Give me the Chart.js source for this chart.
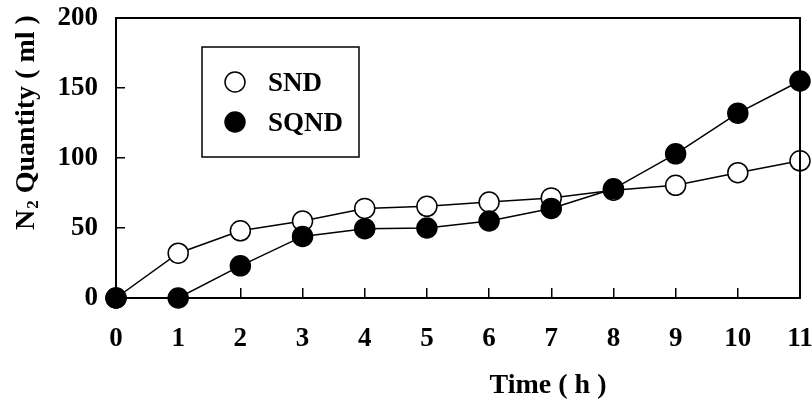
<!DOCTYPE html>
<html>
<head>
<meta charset="utf-8">
<script src="https://cdn.jsdelivr.net/npm/chart.js@4/dist/chart.umd.min.js"></script>
<style>
  html, body { margin: 0; padding: 0; background: #fff; }
  #wrap { width: 812px; height: 401px; }
</style>
</head>
<body>
<div id="wrap"><canvas id="myChart" width="812" height="401"></canvas></div>
<script>
const hours = [0, 1, 2, 3, 4, 5, 6, 7, 8, 9, 10, 11];
const snd = [0, 32, 48, 55, 64, 65.5, 68.5, 71.5, 77, 80.5, 89.5, 98];
const sqnd = [0, 0, 23, 44, 49.5, 50, 55, 64, 78, 103, 132, 155];
const yTicks = [0, 50, 100, 150, 200];

const FONT = "'Liberation Serif', 'Times New Roman', serif";

const toPoints = (vals) => hours.map((h, i) => ({ x: h, y: vals[i] }));

// frame, axis titles and boxed legend
const extras = {
  id: "extras",
  afterDraw(chart) {
    const ctx = chart.ctx;
    const a = chart.chartArea;
    ctx.save();
    ctx.strokeStyle = "#000";
    ctx.lineWidth = 2;
    ctx.strokeRect(a.left, a.top, a.right - a.left, a.bottom - a.top);

    ctx.fillStyle = "#000";
    // x title
    ctx.font = "bold 28px " + FONT;
    ctx.textAlign = "center";
    ctx.textBaseline = "alphabetic";
    ctx.fillText("Time ( h )", 548, 393);

    // y title, with subscript 2
    ctx.translate(34, 230);
    ctx.rotate(-Math.PI / 2);
    ctx.textAlign = "left";
    ctx.font = "bold 28px " + FONT;
    ctx.fillText("N", 0, 0);
    let w = ctx.measureText("N").width;
    ctx.font = "bold 17px " + FONT;
    ctx.fillText("2", w + 1, 4);
    w += ctx.measureText("2").width + 1;
    ctx.font = "bold 28px " + FONT;
    ctx.fillText(" Quantity ( ml )", w, 0);
    ctx.restore();

    // legend
    ctx.save();
    ctx.strokeStyle = "#000";
    ctx.lineWidth = 1.5;
    ctx.strokeRect(202, 47, 157, 110);
    const items = [
      { label: "SND", fill: "#fff", y: 82 },
      { label: "SQND", fill: "#000", y: 122 },
    ];
    ctx.font = "bold 27px " + FONT;
    ctx.textAlign = "left";
    ctx.textBaseline = "alphabetic";
    items.forEach((it) => {
      ctx.beginPath();
      ctx.arc(235, it.y, 10, 0, Math.PI * 2);
      ctx.fillStyle = it.fill;
      ctx.fill();
      ctx.lineWidth = 1.5;
      ctx.stroke();
      ctx.fillStyle = "#000";
      ctx.fillText(it.label, 268, it.y + 9);
    });
    ctx.restore();
  },
};

const ctx = document.getElementById("myChart").getContext("2d");
new Chart(ctx, {
  type: "line",
  data: {
    datasets: [
      {
        label: "SND",
        data: toPoints(snd),
        borderColor: "#000",
        borderWidth: 1.5,
        pointRadius: 10,
        pointBorderWidth: 1.5,
        pointBackgroundColor: "#fff",
        pointBorderColor: "#000",
        fill: false,
        clip: false,
        order: 1,
      },
      {
        label: "SQND",
        data: toPoints(sqnd),
        borderColor: "#000",
        borderWidth: 1.5,
        pointRadius: 10,
        pointBorderWidth: 1.5,
        pointBackgroundColor: "#000",
        pointBorderColor: "#000",
        fill: false,
        clip: false,
        order: 0,
      },
    ],
  },
  options: {
    responsive: false,
    animation: false,
    devicePixelRatio: 1,
    layout: {
      autoPadding: false,
      padding: { top: 18, right: 12, left: 0, bottom: 0 },
    },
    plugins: {
      legend: { display: false },
      tooltip: { enabled: false },
      title: { display: false },
    },
    scales: {
      x: {
        type: "linear",
        min: 0,
        max: 11,
        afterFit: (s) => {
          s.height = 103;
          s.paddingLeft = 0;
          s.paddingRight = 0;
        },
        afterBuildTicks: (s) => { s.ticks = hours.map((v) => ({ value: v })); },
        border: { display: true, color: "#000", width: 2 },
        grid: { drawOnChartArea: false, drawTicks: true, tickLength: -10, color: "#000", lineWidth: 1.5 },
        ticks: {
          padding: 35,
          color: "#000",
          font: { family: FONT, size: 27, weight: "bold" },
          maxRotation: 0,
        },
      },
      y: {
        min: 0,
        max: 200,
        afterFit: (s) => {
          s.width = 116;
          s.paddingTop = 0;
          s.paddingBottom = 0;
        },
        afterBuildTicks: (s) => { s.ticks = yTicks.map((v) => ({ value: v })); },
        border: { display: true, color: "#000", width: 2 },
        grid: { drawOnChartArea: false, drawTicks: true, tickLength: -9, color: "#000", lineWidth: 1.5 },
        ticks: {
          padding: 27,
          color: "#000",
          font: { family: FONT, size: 27, weight: "bold" },
        },
      },
    },
  },
  plugins: [extras],
});
</script>
</body>
</html>
